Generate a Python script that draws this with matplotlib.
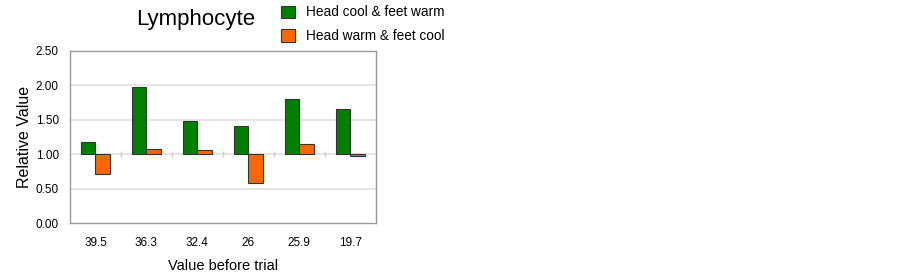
import matplotlib
matplotlib.use('Agg')
import matplotlib.pyplot as plt
import numpy as np
from matplotlib.patches import Patch

# data
categories = ['39.5', '36.3', '32.4', '26', '25.9', '19.7']
cool_head = [1.18, 1.97, 1.48, 1.41, 1.80, 1.65]   # Head cool & feet warm
warm_head = [0.72, 1.08, 1.06, 0.58, 1.15, 0.97]   # Head warm & feet cool
yticks = [0.0, 0.5, 1.0, 1.5, 2.0, 2.5]

plt.rcParams['font.family'] = ['Liberation Sans', 'DejaVu Sans']

green = '#008000'
orange = '#ff6600'
edge = '#333333'
narrow = ['Liberation Sans Narrow', 'Liberation Sans', 'DejaVu Sans']

fig = plt.figure(figsize=(9.02, 2.79), dpi=100)
ax = fig.add_axes([0.0776, 0.1996, 0.339, 0.6187])

x = np.arange(len(categories))
w = 0.28
base = 1.0
ax.bar(x - w / 2, np.array(cool_head) - base, w, bottom=base, color=green,
       edgecolor=edge, linewidth=0.8, zorder=3)
ax.bar(x + w / 2, np.array(warm_head) - base, w, bottom=base, color=orange,
       edgecolor=edge, linewidth=0.8, zorder=3)

# grid + the axis line that crosses at 1.0
for yv in yticks[1:-1]:
    ax.axhline(yv, color='#e0e0e0', linewidth=1.2, zorder=1)
ax.plot(x[:-1] + 0.5, [base] * (len(x) - 1), linestyle='none', marker='|',
        markersize=4, color='#d0d0d0', zorder=1)

ax.set_xlim(-0.5, len(categories) - 0.5)
ax.set_ylim(0, 2.5)
ax.set_yticks(yticks)
ax.set_yticklabels(['%.2f' % v for v in yticks], family=narrow, fontsize=8.5)
ax.set_xticks(x)
ax.set_xticklabels(categories, family=narrow, fontsize=8.5)
ax.tick_params(axis='both', length=0)
ax.tick_params(axis='y', pad=8)
ax.tick_params(axis='x', pad=10)
for s in ax.spines.values():
    s.set_color('#999999')
    s.set_linewidth(1.0)

ax.set_xlabel('Value before trial', fontsize=10.5, labelpad=7)
ax.set_ylabel('Relative Value', fontsize=11.5, labelpad=3)

fig.text(196 / 902, 1 - 25 / 279, 'Lymphocyte', fontsize=16,
         ha='center', va='baseline')

handles = [Patch(facecolor=green, edgecolor=edge, linewidth=0.8),
           Patch(facecolor=orange, edgecolor=edge, linewidth=0.8)]
fig.legend(handles, ['Head cool & feet warm', 'Head warm & feet cool'],
           loc='upper left', bbox_to_anchor=(276 / 902, 1.0), frameon=False,
           fontsize=9.8, handlelength=1.0, handleheight=1.0,
           handletextpad=0.8, labelspacing=0.72, borderaxespad=0.0)

fig.savefig('out.png', dpi=100)
